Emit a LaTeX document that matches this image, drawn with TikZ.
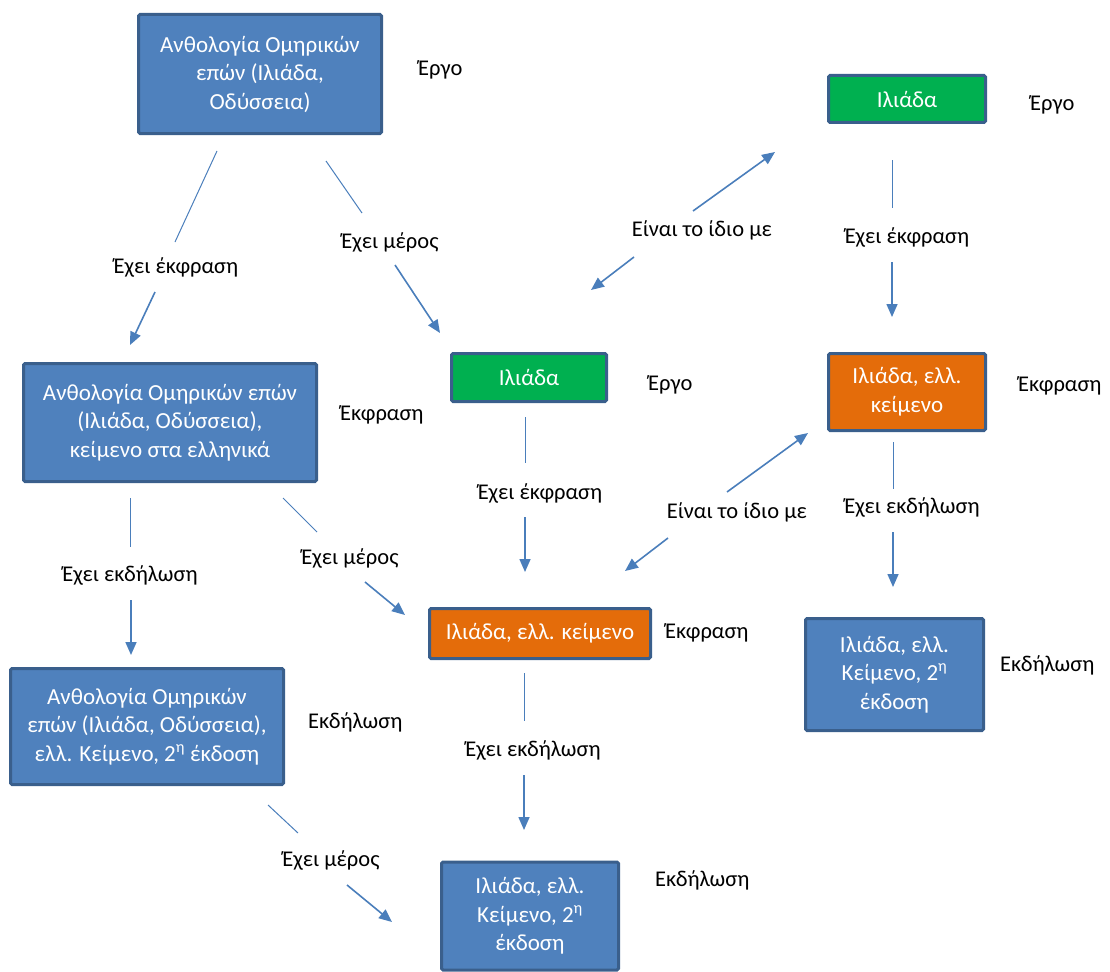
\documentclass[tikz,border=0pt]{standalone}
\usepackage{fontspec}
\setmainfont{Carlito}
\usetikzlibrary{arrows.meta}
\definecolor{boxblue}{HTML}{4F81BD}
\definecolor{boxedge}{HTML}{3A5F8C}
\definecolor{boxgreen}{HTML}{00B050}
\definecolor{boxorange}{HTML}{E46C0A}
\definecolor{linkblue}{HTML}{4A7EBB}
\tikzset{
  bx/.style={draw=boxedge, line width=3pt, rounded corners=1.5pt, text=white, align=center,
    inner sep=0pt, font=\fontsize{23}{28.5}\selectfont},
  bluebox/.style={bx, fill=boxblue},
  greenbox/.style={bx, fill=boxgreen},
  orangebox/.style={bx, fill=boxorange},
  lab/.style={text=black, inner sep=0pt, font=\fontsize{22.5}{27}\selectfont},
  side/.style={lab, anchor=west},
  stem/.style={draw=linkblue, line width=1pt},
  arr/.style={draw=linkblue, line width=1.6pt, -{Triangle[length=13pt,width=11pt]}}
}
\begin{document}
\begin{tikzpicture}[x=1pt,y=-1pt]
\useasboundingbox (0,0) rectangle (1110,971);
% boxes
\node[bluebox, minimum width=243pt, minimum height=119pt] (b1) at (260,74) {Ανθολογία Ομηρικών\\επών (Ιλιάδα,\\Οδύσσεια)};
\node[greenbox, minimum width=157pt, minimum height=47pt] (b2) at (907,99) {Ιλιάδα};
\node[bluebox, minimum width=293pt, minimum height=118pt] (b3) at (170,422.5) {Ανθολογία Ομηρικών επών\\(Ιλιάδα, Οδύσσεια),\\κείμενο στα ελληνικά};
\node[greenbox, minimum width=155pt, minimum height=48pt] (b4) at (529,377.5) {Ιλιάδα};
\node[orangebox, minimum width=157pt, minimum height=77pt] (b5) at (907,392) {Ιλιάδα, ελλ.\\κείμενο};
\node[orangebox, minimum width=221pt, minimum height=50pt] (b6) at (540,633.5) {Ιλιάδα, ελλ. κείμενο};
\node[bluebox, minimum width=178pt, minimum height=112pt] (b7) at (894.5,674.5) {Ιλιάδα, ελλ.\\Κείμενο, 2\textsuperscript{η}\\έκδοση};
\node[bluebox, minimum width=273pt, minimum height=116pt] (b8) at (147,726.5) {Ανθολογία Ομηρικών\\επών (Ιλιάδα, Οδύσσεια),\\ελλ. Κείμενο, 2\textsuperscript{η} έκδοση};
\node[bluebox, minimum width=177pt, minimum height=108pt] (b9) at (530,916) {Ιλιάδα, ελλ.\\Κείμενο, 2\textsuperscript{η}\\έκδοση};
% side labels
\node[side] (s1) at (418,70) {Έργο};
\node[side] (s2) at (1030,105) {Έργο};
\node[side] (s3) at (340,415) {Έκφραση};
\node[side] (s4) at (648,385) {Έργο};
\node[side] (s5) at (1018,386) {Έκφραση};
\node[side] (s6) at (665,633) {Έκφραση};
\node[side] (s7) at (1000,665) {Εκδήλωση};
\node[side] (s8) at (308,722) {Εκδήλωση};
\node[side] (s9) at (655,880) {Εκδήλωση};
% connector labels
\node[lab] (l1) at (176,267) {Έχει έκφραση};
\node[lab] (l2) at (390,242) {Έχει μέρος};
\node[lab] (l3) at (907,237) {Έχει έκφραση};
\node[lab] (l4) at (702,230) {Είναι το ίδιο με};
\node[lab] (l5) at (540,493) {Έχει έκφραση};
\node[lab] (l6) at (737,512) {Είναι το ίδιο με};
\node[lab] (l7) at (912,507) {Έχει εκδήλωση};
\node[lab] (l8) at (130,575) {Έχει εκδήλωση};
\node[lab] (l9) at (350,558) {Έχει μέρος};
\node[lab] (l10) at (533,750) {Έχει εκδήλωση};
\node[lab] (l11) at (331,860) {Έχει μέρος};
% connector end points
\coordinate (c1a) at (217,151); \coordinate (c1b) at (175,242); \coordinate (c1c) at (155,292); \coordinate (c1d) at (130,345);
\coordinate (c2a) at (326,161); \coordinate (c2b) at (362,213); \coordinate (c2c) at (395,265); \coordinate (c2d) at (440,333);
\coordinate (c3a) at (892,160); \coordinate (c3b) at (892,208); \coordinate (c3c) at (892,262); \coordinate (c3d) at (892,317);
\coordinate (c4a) at (693,211); \coordinate (c4b) at (775,152); \coordinate (c4c) at (634,257); \coordinate (c4d) at (591,290);
\coordinate (c5a) at (525,417); \coordinate (c5b) at (525,463); \coordinate (c5c) at (525,517); \coordinate (c5d) at (525,572);
\coordinate (c6a) at (727,492); \coordinate (c6b) at (808,433); \coordinate (c6c) at (668,538); \coordinate (c6d) at (625,571);
\coordinate (c7a) at (893,442); \coordinate (c7b) at (893,489); \coordinate (c7c) at (893,532); \coordinate (c7d) at (893,587);
\coordinate (c8a) at (130,498); \coordinate (c8b) at (130,547); \coordinate (c8c) at (131,600); \coordinate (c8d) at (131,655);
\coordinate (c9a) at (283,498); \coordinate (c9b) at (317,532); \coordinate (c9c) at (365,582); \coordinate (c9d) at (405,615);
\coordinate (c10a) at (524,673); \coordinate (c10b) at (524,721); \coordinate (c10c) at (524,775); \coordinate (c10d) at (524,830);
\coordinate (c11a) at (268,805); \coordinate (c11b) at (298,833); \coordinate (c11c) at (347,885); \coordinate (c11d) at (392,922);
% connectors
\foreach \i in {1,2,3,5,7,8,9,10,11} {
  \draw[stem] (c\i a) -- (c\i b);
  \draw[arr] (c\i c) -- (c\i d);
}
\draw[arr] (c4a) -- (c4b);
\draw[arr] (c4c) -- (c4d);
\draw[arr] (c6a) -- (c6b);
\draw[arr] (c6c) -- (c6d);
\end{tikzpicture}
\end{document}
